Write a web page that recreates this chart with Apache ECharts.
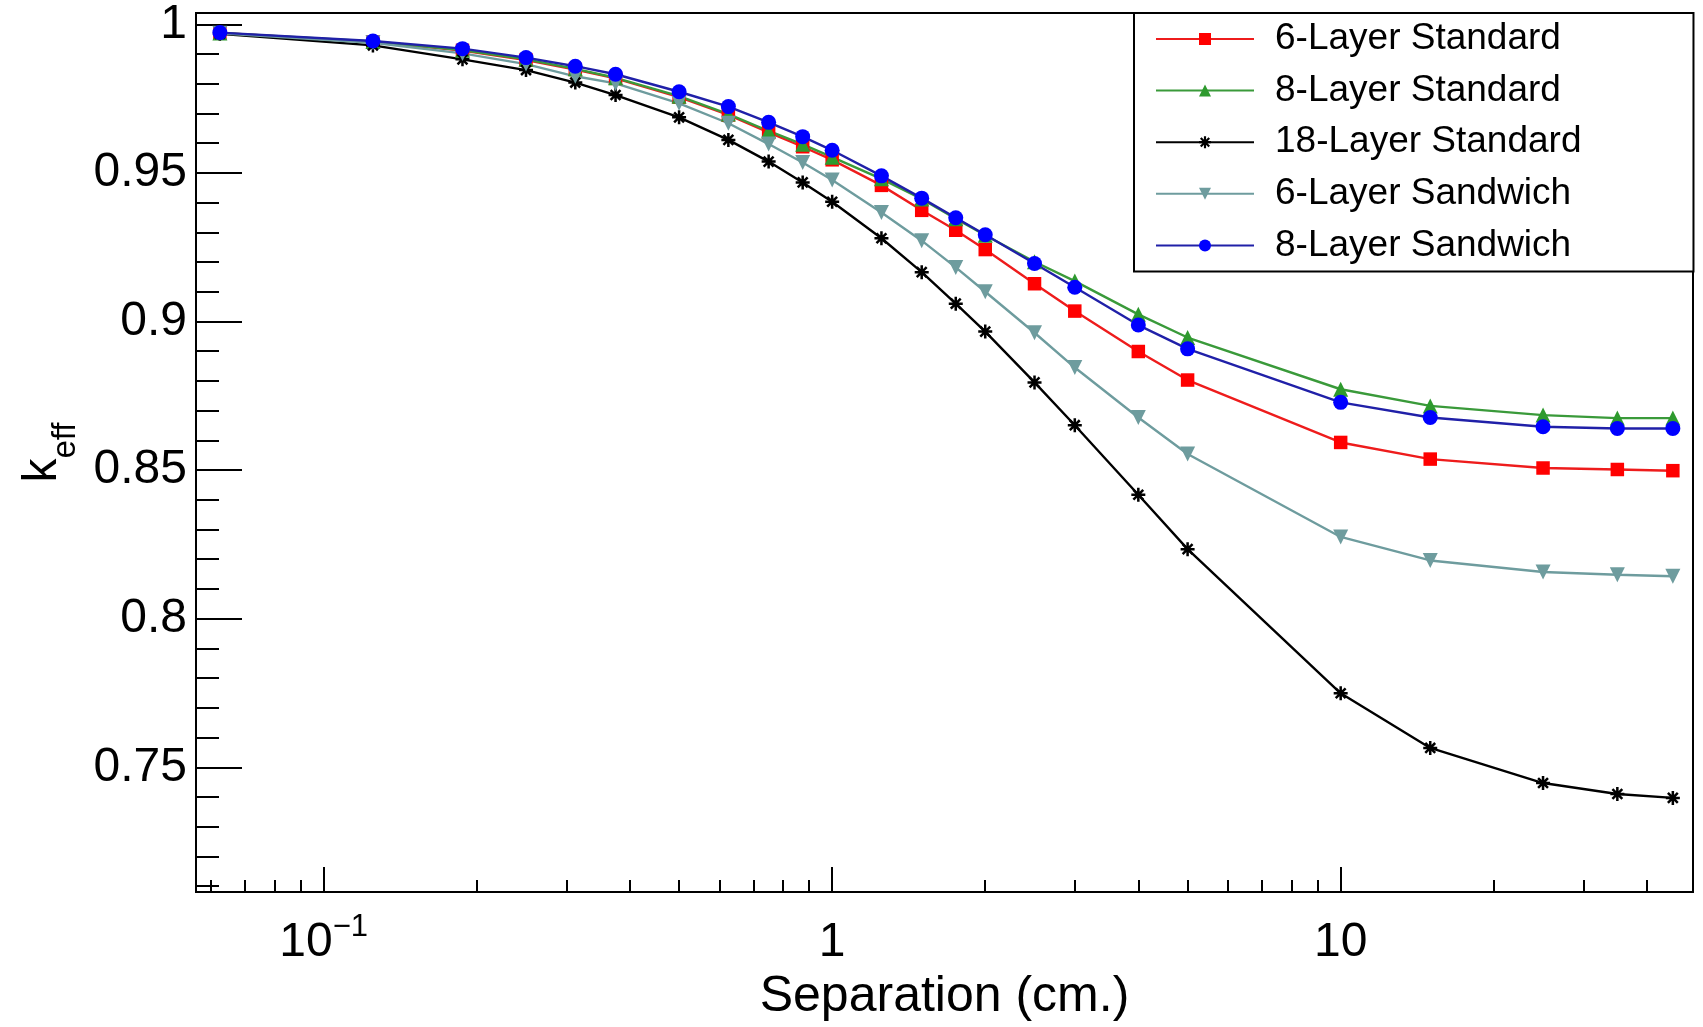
<!DOCTYPE html>
<html>
<head>
<meta charset="utf-8">
<title>k_eff vs separation</title>
<script src="https://cdn.jsdelivr.net/npm/echarts@6/dist/echarts.min.js"></script>
<style>
  html, body { margin: 0; padding: 0; background: #ffffff; }
  #chart { width: 1703px; height: 1027px; }
</style>
</head>
<body>
<div id="chart"></div>
<script>
// Separation between layers (cm), shared by every curve
const separation = [0.0625, 0.125, 0.1875, 0.25, 0.3125, 0.375, 0.5, 0.625, 0.75, 0.875,
  1, 1.25, 1.5, 1.75, 2, 2.5, 3, 4, 5, 10, 15, 25, 35, 45];

// k_eff for each configuration
const keff6Standard = [0.9971, 0.9941, 0.9912, 0.9880, 0.9848, 0.9818, 0.9755, 0.9695, 0.9636, 0.9588,
  0.9544, 0.9458, 0.9374, 0.9307, 0.9242, 0.9127, 0.9035, 0.8899, 0.8803, 0.8593, 0.8537, 0.8507, 0.8502, 0.8498];
const keff8Standard = [0.9971, 0.9942, 0.9913, 0.9882, 0.9850, 0.9820, 0.9758, 0.9698, 0.9641, 0.9596,
  0.9553, 0.9480, 0.9412, 0.9346, 0.9290, 0.9201, 0.9136, 0.9024, 0.8946, 0.8772, 0.8716, 0.8685, 0.8675, 0.8675];
const keff18Standard = [0.9968, 0.9929, 0.9882, 0.9846, 0.9804, 0.9762, 0.9687, 0.9611, 0.9538, 0.9468,
  0.9403, 0.9280, 0.9166, 0.9060, 0.8966, 0.8795, 0.8651, 0.8417, 0.8234, 0.7749, 0.7565, 0.7447, 0.7410, 0.7397];
const keff6Sandwich = [0.9970, 0.9938, 0.9902, 0.9866, 0.9825, 0.9801, 0.9734, 0.9667, 0.9597, 0.9535,
  0.9476, 0.9367, 0.9272, 0.9182, 0.9100, 0.8962, 0.8845, 0.8677, 0.8554, 0.8275, 0.8196, 0.8157, 0.8148, 0.8143];
const keff8Sandwich = [0.9972, 0.9944, 0.9918, 0.9888, 0.9859, 0.9832, 0.9773, 0.9723, 0.9670, 0.9622,
  0.9576, 0.9490, 0.9415, 0.9349, 0.9292, 0.9195, 0.9115, 0.8988, 0.8908, 0.8728, 0.8677, 0.8646, 0.8640, 0.8640];

const seriesNames = ['6-Layer Standard', '8-Layer Standard', '18-Layer Standard', '6-Layer Sandwich', '8-Layer Sandwich'];

// Axis ranges and tick values
const xRange = [0.0561, 49.3];
const yRange = [0.708, 1.0038];
const xMajorTicks = [0.1, 1, 10];
const xMinorTicks = [0.06, 0.07, 0.08, 0.09, 0.2, 0.3, 0.4, 0.5, 0.6, 0.7, 0.8, 0.9,
  2, 3, 4, 5, 6, 7, 8, 9, 20, 30, 40];
const yMajorTicks = [0.75, 0.8, 0.85, 0.9, 0.95, 1];
const yMinorTicks = [0.71, 0.72, 0.73, 0.74, 0.76, 0.77, 0.78, 0.79, 0.81, 0.82, 0.83, 0.84,
  0.86, 0.87, 0.88, 0.89, 0.91, 0.92, 0.93, 0.94, 0.96, 0.97, 0.98, 0.99];

const FONT = "'Liberation Sans', Arial, Helvetica, sans-serif";

// Asterisk marker: four thin bars crossing at the centre
function asteriskPath() {
  const parts = [];
  const w = 0.18, L = 1;
  [0, 45, 90, 135].forEach(function (deg) {
    const a = deg * Math.PI / 180, c = Math.cos(a), s = Math.sin(a);
    const pts = [[-L, -w], [L, -w], [L, w], [-L, w]].map(function (p) {
      return [(p[0] * c - p[1] * s + 1).toFixed(3), (p[0] * s + p[1] * c + 1).toFixed(3)];
    });
    parts.push('M' + pts.map(function (p) { return p[0] + ' ' + p[1]; }).join(' L') + ' Z');
  });
  return 'path://' + parts.join(' ');
}

function pairs(ys) {
  return separation.map(function (x, i) { return [x, ys[i]]; });
}

function makeSeries(name, ys, lineColor, markerColor, symbol, size, rotate) {
  return {
    name: name,
    type: 'line',
    data: pairs(ys),
    symbol: symbol,
    symbolSize: size,
    symbolRotate: rotate || 0,
    showSymbol: true,
    showAllSymbol: true,
    lineStyle: { color: lineColor, width: 2.4 },
    itemStyle: { color: markerColor, borderWidth: 0 },
    emphasis: { disabled: true },
    animation: false
  };
}

const chart = echarts.init(document.getElementById('chart'), null, { renderer: 'canvas' });

const axisLabelRich = {
  b: { fontSize: 48, fontFamily: FONT, color: '#000', lineHeight: 48, padding: [7, 0, 0, 0], verticalAlign: 'top' },
  s: { fontSize: 31, fontFamily: FONT, color: '#000', lineHeight: 31, verticalAlign: 'top' }
};

const option = {
  backgroundColor: '#ffffff',
  animation: false,
  textStyle: { fontFamily: FONT, color: '#000' },
  grid: {
    left: 196, right: 10, top: 13, bottom: 133,
    show: true, borderColor: '#000', borderWidth: 2, backgroundColor: 'transparent',
    containLabel: false
  },
  legend: {
    orient: 'vertical',
    left: 1134, top: 13,
    padding: [6, 112, 6, 21],
    itemWidth: 98,
    itemHeight: 15,
    itemGap: 11.6,
    backgroundColor: '#ffffff',
    borderColor: '#000',
    borderWidth: 2,
    borderRadius: 0,
    selectedMode: false,
    textStyle: { fontSize: 37, fontFamily: FONT, color: '#000', lineHeight: 40, padding: [0, 0, 0, 16] },
    data: seriesNames
  },
  xAxis: [
    {
      type: 'log', logBase: 10, min: xRange[0], max: xRange[1],
      position: 'bottom',
      name: 'Separation (cm.)', nameLocation: 'middle', nameGap: 77,
      nameTextStyle: { fontSize: 50, fontFamily: FONT, color: '#000' },
      axisLine: { show: true, lineStyle: { color: '#000', width: 2 } },
      axisTick: { show: true, inside: true, length: 25, customValues: xMajorTicks, lineStyle: { color: '#000', width: 2 } },
      minorTick: { show: false },
      splitLine: { show: false },
      axisLabel: {
        show: true, margin: 20, customValues: xMajorTicks,
        formatter: function (v) {
          if (Math.abs(v - 0.1) < 1e-9) return '{b|10}{s|\u22121}';
          return '{b|' + (Math.abs(v - 1) < 1e-9 ? '1' : '10') + '}';
        },
        rich: axisLabelRich
      }
    },
    {
      type: 'log', logBase: 10, min: xRange[0], max: xRange[1],
      position: 'bottom', offset: 0,
      axisLine: { show: false },
      axisTick: { show: true, inside: true, length: 12, customValues: xMinorTicks, lineStyle: { color: '#000', width: 2 } },
      axisLabel: { show: false },
      splitLine: { show: false }
    }
  ],
  yAxis: [
    {
      type: 'value', min: yRange[0], max: yRange[1],
      position: 'left',
      name: '{k|k}{e|eff}', nameLocation: 'middle', nameGap: 116, nameRotate: 90,
      nameTextStyle: {
        rich: {
          k: { fontSize: 48, fontFamily: FONT, color: '#000', lineHeight: 48, verticalAlign: 'top' },
          e: { fontSize: 33, fontFamily: FONT, color: '#000', lineHeight: 33, padding: [31, 0, 0, 0], verticalAlign: 'top' }
        }
      },
      axisLine: { show: true, lineStyle: { color: '#000', width: 2 } },
      axisTick: { show: true, inside: true, length: 46, customValues: yMajorTicks, lineStyle: { color: '#000', width: 2 } },
      minorTick: { show: false },
      splitLine: { show: false },
      axisLabel: {
        show: true, margin: 9, customValues: yMajorTicks,
        fontSize: 48, fontFamily: FONT, color: '#000',
        formatter: function (v) { return String(Math.round(v * 100) / 100); }
      }
    },
    {
      type: 'value', min: yRange[0], max: yRange[1],
      position: 'left', offset: 0,
      axisLine: { show: false },
      axisTick: { show: true, inside: true, length: 23, customValues: yMinorTicks, lineStyle: { color: '#000', width: 2 } },
      axisLabel: { show: false },
      splitLine: { show: false }
    }
  ],
  series: [
    makeSeries(seriesNames[0], keff6Standard, '#ee1c1c', '#ff0000', 'rect', 13.5),
    makeSeries(seriesNames[1], keff8Standard, '#3a9a3a', '#2e9a2e', 'triangle', 15),
    makeSeries(seriesNames[2], keff18Standard, '#000000', '#000000', asteriskPath(), 14),
    makeSeries(seriesNames[3], keff6Sandwich, '#6e9c9e', '#6e9c9e', 'triangle', 15, 180),
    makeSeries(seriesNames[4], keff8Sandwich, '#2020a8', '#0000ff', 'circle', 15)
  ]
};

chart.setOption(option);
</script>
</body>
</html>
